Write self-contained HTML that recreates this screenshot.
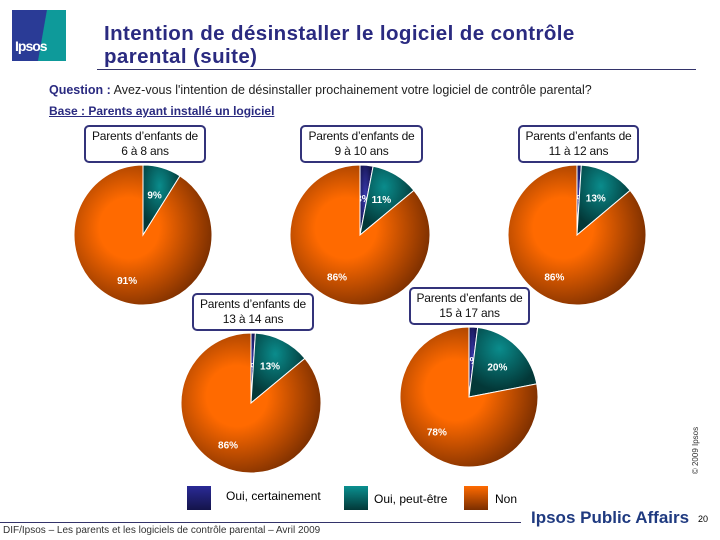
<!DOCTYPE html>
<html><head><meta charset="utf-8"><style>
body{margin:0;width:720px;height:540px;background:#fff;position:relative;overflow:hidden;font-family:"Liberation Sans",sans-serif}
.a{position:absolute;white-space:nowrap}
.box{position:absolute;z-index:2;border:2px solid #33337a;border-radius:5px;background:#fff;font-size:12px;line-height:15px;text-align:center;color:#111;box-sizing:border-box;padding-top:2px;white-space:nowrap;letter-spacing:-0.2px}
</style></head><body>
<div class="a" style="left:12px;top:10px;width:54px;height:51px;background:linear-gradient(100deg,#2a3b96 55%,#0e9a9a 56%)"><div style="position:absolute;left:3px;top:28px;color:#fff;font-weight:bold;font-size:14px;letter-spacing:-1px">Ipsos</div></div>
<div class="a" style="left:104px;top:22px;color:#2a2a80;font-weight:bold;font-size:20.5px;line-height:23px;letter-spacing:0.4px">Intention de désinstaller le logiciel de contrôle<br>parental (suite)</div>
<div class="a" style="left:97px;top:69px;width:599px;height:1px;background:#33336a"></div>
<div class="a" style="left:49px;top:83px;font-size:12.5px;color:#222"><b style="color:#2a2a80">Question :</b> Avez-vous l'intention de désinstaller prochainement votre logiciel de contrôle parental?</div>
<div class="a" style="left:49px;top:104px;font-size:12px;color:#2a2a80;text-decoration:underline;font-weight:bold">Base : Parents ayant installé un logiciel</div>
<div class="box" style="left:84px;top:125px;width:122px;height:38px">Parents d’enfants de<br>6 à 8 ans</div>
<div class="box" style="left:300px;top:125px;width:123px;height:38px">Parents d’enfants de<br>9 à 10 ans</div>
<div class="box" style="left:518px;top:125px;width:121px;height:38px">Parents d’enfants de<br>11 à 12 ans</div>
<div class="box" style="left:192px;top:293px;width:122px;height:38px">Parents d’enfants de<br>13 à 14 ans</div>
<div class="box" style="left:409px;top:287px;width:121px;height:38px">Parents d’enfants de<br>15 à 17 ans</div>
<svg class="a" id="pies" style="left:0;top:0" width="720" height="540">
<defs>
<radialGradient id="g0" cx="0.4" cy="0.45" r="0.6"><stop offset="0" stop-color="#3a3ab0"/><stop offset="1" stop-color="#101045"/></radialGradient>
<radialGradient id="g1" cx="0.45" cy="0.3" r="0.6"><stop offset="0" stop-color="#0a8c8c"/><stop offset="1" stop-color="#033838"/></radialGradient>
<radialGradient id="g2" cx="0.4" cy="0.45" r="0.62"><stop offset="0.35" stop-color="#ff6a00"/><stop offset="1" stop-color="#7a2e00"/></radialGradient>
</defs>
</svg>
<div class="a" style="left:187px;top:486px;width:24px;height:24px;background:linear-gradient(#2a2a96,#14144a)"></div>
<div class="a" style="left:226px;top:489px;font-size:12px">Oui, certainement</div>
<div class="a" style="left:344px;top:486px;width:24px;height:24px;background:linear-gradient(#0a9090,#033838)"></div>
<div class="a" style="left:374px;top:492px;font-size:12px">Oui, peut-être</div>
<div class="a" style="left:464px;top:486px;width:24px;height:24px;background:linear-gradient(#ff6a00,#7a2e00)"></div>
<div class="a" style="left:495px;top:492px;font-size:12px">Non</div>
<div class="a" style="left:0;top:522px;width:521px;height:1px;background:#33336a"></div>
<div class="a" style="left:3px;top:525px;font-size:10px;color:#333">DIF/Ipsos – Les parents et les logiciels de contrôle parental – Avril 2009</div>
<div class="a" style="left:531px;top:508px;font-size:17px;color:#1f3a80;font-weight:bold">Ipsos Public Affairs</div>
<div class="a" style="left:698px;top:514px;font-size:9px">20</div>
<div class="a" style="left:672px;top:446px;font-size:8px;color:#333;transform:rotate(-90deg)">© 2009 Ipsos</div>
<script>
const groups=["6-8","9-10","11-12","13-14","15-17"];
const certainement=[0,3,1,1,2];
const peutEtre=[9,11,13,13,20];
const non=[91,86,86,86,78];
const pies=[[143,235,69,70],[360,235,70,70],[577,235,69,70],[251,403,70,70],[469,397,69,70]];
const svg=document.getElementById('pies');const NS='http://www.w3.org/2000/svg';
function pt(cx,cy,rx,ry,f,r){const a=f*2*Math.PI;return [cx+rx*r*Math.sin(a),cy-ry*r*Math.cos(a)];}
pies.forEach((p,i)=>{
  const [cx,cy,rx,ry]=p;const vals=[certainement[i],peutEtre[i],non[i]];const tot=vals.reduce((a,b)=>a+b,0);
  let acc=0;
  vals.forEach((v,k)=>{
    if(v<=0)return;
    const f0=acc/tot,f1=(acc+v)/tot;acc+=v;
    const s=pt(cx,cy,rx,ry,f0,1),e=pt(cx,cy,rx,ry,f1,1);
    const path=document.createElementNS(NS,'path');
    path.setAttribute('d',`M${cx},${cy}L${s[0]},${s[1]}A${rx},${ry} 0 ${f1-f0>0.5?1:0} 1 ${e[0]},${e[1]}Z`);
    path.setAttribute('fill',`url(#g${k})`);path.setAttribute('stroke','#fff');path.setAttribute('stroke-width','1');
    
    
    svg.appendChild(path);
    const mid=(f0+f1)/2;
    let lp;
    if(k==2){lp=pt(cx,cy,rx,ry,mid+0.01,0.68);}
    else if(k==1){lp=pt(cx,cy,rx,ry,mid,0.6);}
    else{lp=pt(cx,cy,rx,ry,mid,0.53);}
    const t=document.createElementNS(NS,'text');
    t.setAttribute('x',lp[0]);t.setAttribute('y',lp[1]+4);t.setAttribute('text-anchor','middle');
    t.setAttribute('font-size','10');t.setAttribute('font-weight','bold');t.setAttribute('fill','#fff');
    t.setAttribute('font-family','Liberation Sans, sans-serif');
    t.textContent=v+'%';
    
    
    svg.appendChild(t);
  });
});
</script>
</body></html>
